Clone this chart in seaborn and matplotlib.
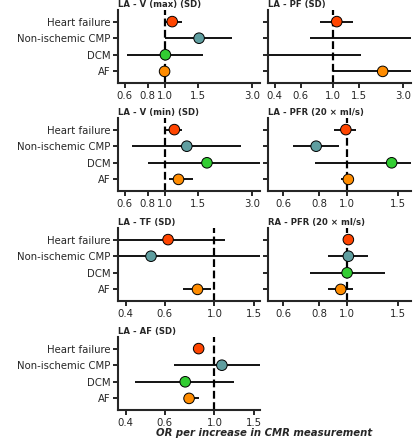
import numpy as np
import pandas as pd
import seaborn as sns
import matplotlib.pyplot as plt
from matplotlib.ticker import FixedLocator, FixedFormatter, NullLocator

groups = ['Heart failure', 'Non-ischemic CMP', 'DCM', 'AF']
colors = ['#FF4500', '#5F9EA0', '#32CD32', '#FF8C00']

# odds ratio, lower and upper CI per panel
vmax_or = [1.09, 1.53, 1.00, 0.99]
vmax_lo = [1.01, 1.00, 0.62, 0.96]
vmax_hi = [1.23, 2.33, 1.60, 1.03]

pf_or = [1.06, 4.50, 0.25, 2.18]
pf_lo = [0.81, 0.70, 0.05, 1.00]
pf_hi = [1.37, 30.0, 1.56, 20.0]

vmin_or = [1.12, 1.31, 1.69, 1.18]
vmin_lo = [1.01, 0.66, 0.80, 1.05]
vmin_hi = [1.24, 2.60, 4.00, 1.41]

lapfr_or = [0.99, 0.78, 1.43, 1.01]
lapfr_lo = [0.90, 0.65, 0.77, 0.95]
lapfr_hi = [1.07, 0.94, 1.90, 1.05]

tf_or = [0.62, 0.52, np.nan, 0.84]
tf_lo = [0.30, 0.30, np.nan, 0.72]
tf_hi = [1.11, 2.00, np.nan, 0.97]

rapfr_or = [1.01, 1.01, 1.00, 0.95]
rapfr_lo = [0.98, 0.86, 0.74, 0.86]
rapfr_hi = [1.03, 1.18, 1.36, 1.05]

af_or = [0.85, 1.08, 0.74, 0.77]
af_lo = [0.81, 0.66, 0.44, 0.73]
af_hi = [0.89, 1.62, 1.23, 0.85]

ticks_a = [0.6, 0.8, 1.0, 1.5, 3.0]
ticks_b = [0.4, 0.6, 1.0, 1.5, 3.0]
ticks_c = [0.6, 0.8, 1.0, 1.5]
ticks_d = [0.4, 0.6, 1.0, 1.5]

panels = [
    ('LA - V (max) (SD)', vmax_or, vmax_lo, vmax_hi, (0.55, 3.3), ticks_a, 0, 0),
    ('LA - PF (SD)', pf_or, pf_lo, pf_hi, (0.36, 3.4), ticks_b, 0, 1),
    ('LA - V (min) (SD)', vmin_or, vmin_lo, vmin_hi, (0.55, 3.3), ticks_a, 1, 0),
    ('LA - PFR (20 × ml/s)', lapfr_or, lapfr_lo, lapfr_hi, (0.53, 1.67), ticks_c, 1, 1),
    ('LA - TF (SD)', tf_or, tf_lo, tf_hi, (0.37, 1.6), ticks_d, 2, 0),
    ('RA - PFR (20 × ml/s)', rapfr_or, rapfr_lo, rapfr_hi, (0.53, 1.67), ticks_c, 2, 1),
    ('LA - AF (SD)', af_or, af_lo, af_hi, (0.37, 1.6), ticks_d, 3, 0),
]

sns.set_style('ticks')
plt.rcParams['font.family'] = ['DejaVu Sans']

W, H = 413, 440
fig = plt.figure(figsize=(W / 100, H / 100), dpi=100)

col_x = [118, 268]
col_w = [142, 143]
row_top = [10, 118, 228, 337]
row_h = 73

for title, ors, los, his, xlim, ticks, r, c in panels:
    ax = fig.add_axes([col_x[c] / W, 1 - (row_top[r] + row_h) / H, col_w[c] / W, row_h / H])
    df = pd.DataFrame({'group': groups, 'OR': ors, 'lo': los, 'hi': his})
    df['y'] = np.arange(len(groups))

    ax.axvline(1.0, color='black', lw=1.6, ls=(0, (3.5, 1.6)), zorder=1)
    ax.hlines(df['y'], df['lo'], df['hi'], color='black', lw=1.3, zorder=2)
    sns.scatterplot(data=df, x='OR', y='y', hue='group', palette=colors,
                    hue_order=groups, s=58, edgecolor='black', linewidth=0.7,
                    legend=False, zorder=3, ax=ax)

    ax.set_xscale('log')
    ax.set_xlim(*xlim)
    ax.set_ylim(3.7, -0.7)
    ax.xaxis.set_major_locator(FixedLocator(ticks))
    ax.xaxis.set_major_formatter(FixedFormatter([f'{t:.1f}' for t in ticks]))
    ax.xaxis.set_minor_locator(NullLocator())
    ax.set_yticks(range(len(groups)))
    if c == 0:
        ax.set_yticklabels(groups)
    else:
        ax.set_yticklabels([])
    ax.set_xlabel('')
    ax.set_ylabel('')
    ax.tick_params(labelsize=7.3, width=1.4, length=3.5, pad=2)
    for s in ['left', 'bottom']:
        ax.spines[s].set_linewidth(1.5)
    sns.despine(ax=ax)
    ax.set_title(title, loc='left', fontsize=6.1, fontweight='bold', pad=2)

fig.text(264 / W, 1 - 433 / H, 'OR per increase in CMR measurement',
         ha='center', va='center', fontsize=7.3, fontweight='bold', style='italic')

fig.savefig('out.png', dpi=100)
